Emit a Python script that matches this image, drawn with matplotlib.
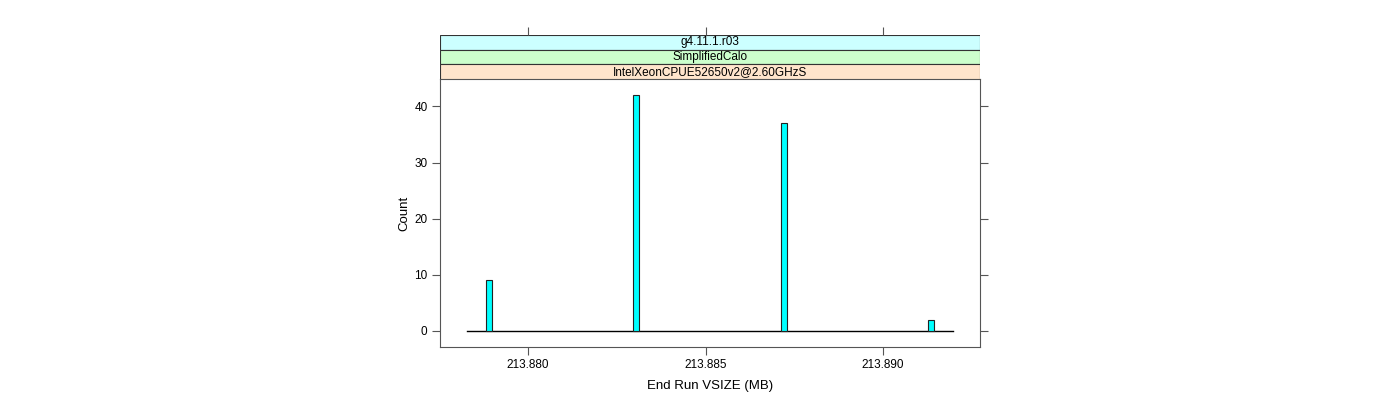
import numpy as np
import matplotlib
matplotlib.use("Agg")
import matplotlib.pyplot as plt
from matplotlib.patches import Rectangle

plt.rcParams['font.family'] = ['Liberation Sans', 'DejaVu Sans']

# data
bin_centers = [213.87889, 213.88304, 213.88721, 213.89136]
counts = [9, 42, 37, 2]
hist_range = [213.87828, 213.89197]
bin_width = 0.00017
x_ticks = [213.880, 213.885, 213.890]
x_tick_labels = ['213.880', '213.885', '213.890']
y_ticks = [0, 10, 20, 30, 40]
strip_labels = ['g4.11.1.r03', 'SimplifiedCalo', 'IntelXeonCPUE52650v2@2.60GHzS']
strip_colors = ['#CCFFFF', '#CCFFCC', '#FFE5CC']

W, H = 1400, 400
fig = plt.figure(figsize=(W / 100, H / 100), dpi=100)

x0, x1 = 440, 980
py0, py1 = 79, 347
xlim = (213.87752, 213.89273)
axis_col = '#555555'

ax = fig.add_axes([x0 / W, 1 - py1 / H, (x1 - x0) / W, (py1 - py0) / H])
ax.bar(bin_centers, counts, width=bin_width, color='#00FFFF',
       edgecolor='#222222', linewidth=0.8, zorder=3)
ax.plot(hist_range, [0, 0], color='black', linewidth=1.0, zorder=2)
ax.set_xlim(*xlim)
ax.set_ylim(-2.9, 44.9)
ax.set_xticks(x_ticks)
ax.set_xticklabels(x_tick_labels)
ax.set_yticks(y_ticks)
ax.tick_params(direction='out', length=6, width=0.8, color=axis_col,
               labelsize=8.5, right=True, top=False, pad=3)
for s in ax.spines.values():
    s.set_color(axis_col)
    s.set_linewidth(0.8)
ax.set_xlabel('End Run VSIZE (MB)', fontsize=9.5, labelpad=6)
ax.set_ylabel('Count', fontsize=9.5, labelpad=3)

# strips
sy0, sy1 = 35, 79
sax = fig.add_axes([x0 / W, 1 - sy1 / H, (x1 - x0) / W, (sy1 - sy0) / H])
sax.set_xlim(*xlim)
sax.set_ylim(0, 3)
n = len(strip_labels)
for i, (lab, col) in enumerate(zip(strip_labels, strip_colors)):
    yb = n - 1 - i
    sax.add_patch(Rectangle((0, yb / n), 1, 1 / n, transform=sax.transAxes,
                            facecolor=col, edgecolor='#333333', linewidth=0.8))
    sax.text(0.5, (yb + 0.5) / n, lab, transform=sax.transAxes,
             ha='center', va='center', fontsize=8.5)
sax.set_xticks(x_ticks)
sax.set_xticklabels([])
sax.set_yticks([])
sax.tick_params(axis='x', bottom=False, top=True, direction='out', length=6,
                width=0.8, color=axis_col)
for s in sax.spines.values():
    s.set_visible(False)

fig.savefig('out.png', dpi=100)
